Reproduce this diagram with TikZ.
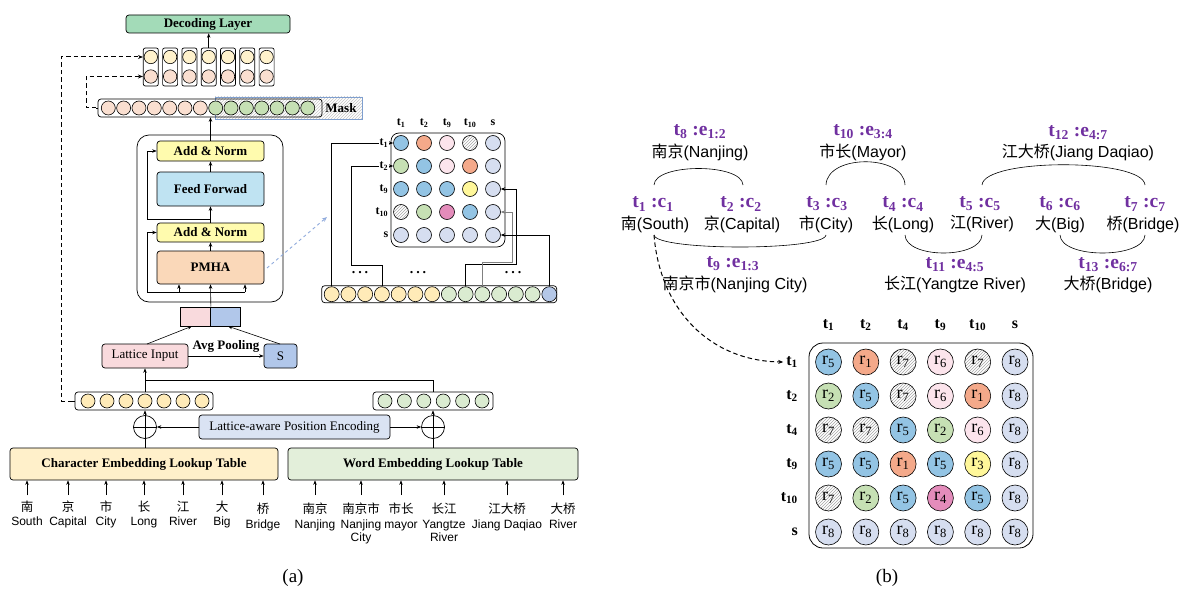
\documentclass[tikz,border=0pt]{standalone}
\usepackage{fontspec}
\setmainfont{Liberation Serif}
\setsansfont{Liberation Sans}
\newfontfamily\cjk{Noto Sans CJK SC}
\usetikzlibrary{arrows.meta,patterns,calc}
\definecolor{decg}{HTML}{A3DBB8}
\definecolor{cyel}{HTML}{FFF2CC}
\definecolor{cpea}{HTML}{FADFD0}
\definecolor{cgrn}{HTML}{C6E0B4}
\definecolor{anorm}{HTML}{FFFBAE}
\definecolor{ffblue}{HTML}{BFE3F2}
\definecolor{pmha}{HTML}{FAD8B9}
\definecolor{lpink}{HTML}{F9DADD}
\definecolor{sblue}{HTML}{B1C7EA}
\definecolor{embY}{HTML}{FFEBB8}
\definecolor{embG}{HTML}{DAEBD0}
\definecolor{embB}{HTML}{B4C7E7}
\definecolor{peblue}{HTML}{DAE3F3}
\definecolor{ctabc}{HTML}{FFF0CA}
\definecolor{wtabc}{HTML}{E3EFDA}
\definecolor{mblue}{HTML}{93C4E4}
\definecolor{morg}{HTML}{F4A98A}
\definecolor{mpink}{HTML}{FCE4EC}
\definecolor{mlb}{HTML}{D6DEF0}
\definecolor{mgrn}{HTML}{C6E0B4}
\definecolor{myel}{HTML}{FFF79A}
\definecolor{mmag}{HTML}{E48CBB}
\definecolor{purp}{HTML}{7030A0}
\definecolor{maskb}{HTML}{7F9FCF}
\definecolor{dashb}{HTML}{8FAADC}
\newcommand\fsz[1]{\fontsize{#1}{#1}\selectfont}
\newcommand\tdots{.\hspace{3pt}.\hspace{3pt}.}
\begin{document}
\begin{tikzpicture}[x=1pt,y=-1pt,
  every node/.style={inner sep=0pt},
  arr/.style={-{Stealth[length=4.5pt,width=3.5pt]}, line width=0.6pt},
  ln/.style={line width=0.6pt},
  dsh/.style={dash pattern=on 4.5pt off 3pt, line width=1pt, -{Stealth[length=5pt,width=4pt]}},
  box/.style={draw, rounded corners=3pt, line width=0.7pt, inner sep=0pt},
  circ/.style={circle, draw, line width=0.6pt, inner sep=0pt},
  bl/.style={font=\fsz{13}\bfseries},
  rl/.style={font=\fsz{13}},
  fl-mblue/.style={fill=mblue}, fl-morg/.style={fill=morg}, fl-mpink/.style={fill=mpink},
  fl-mlb/.style={fill=mlb}, fl-mgrn/.style={fill=mgrn}, fl-myel/.style={fill=myel},
  fl-mmag/.style={fill=mmag}, fl-hat/.style={pattern=north east lines, pattern color=gray!70},
  plab/.style={font=\fsz{19.5}\bfseries, text=purp},
  wlab/.style={font=\sffamily\fsz{16}},
  mhead/.style={font=\fsz{16}\bfseries},
  lhead/.style={font=\fsz{12}\bfseries}
]
\useasboundingbox (0,0) rectangle (1182,591);

%% ---------------- (a) ----------------
\node[box, fill=decg, minimum width=164, minimum height=18, bl] (dec) at (208,24) {Decoding Layer};
\foreach \i in {0,...,6} {
  \pgfmathsetmacro\xx{150.8+19.3*\i}
  \node[box, rounded corners=2pt, minimum width=15, minimum height=38] (col\i) at (\xx,67) {};
  \node[circ, fill=cyel, minimum size=13.4] (ca\i) at (\xx,57) {};
  \node[circ, fill=cpea, minimum size=13.4] (cb\i) at (\xx,76.5) {};
}
\draw[arr] (col3.north) -- (col3.north |- dec.south);

% mask row
\node[draw=maskb, line width=0.8pt, pattern=north east lines, pattern color=gray!45, minimum width=147, minimum height=22] (maskr) at (288.5,108) {};
\node[box, minimum width=224, minimum height=18] (maskrow) at (210,108) {};
\foreach \i in {0,...,13} {
  \pgfmathsetmacro\xx{108.3+15.34*\i}
  \ifnum\i<7 \node[circ, fill=cpea, minimum size=14] (mk\i) at (\xx,108) {};
  \else \node[circ, fill=cgrn, minimum size=14] (mk\i) at (\xx,108) {}; \fi
}
\node[bl] (masklab) at (341,108) {Mask};

% transformer block
\node[box, rounded corners=12pt, minimum width=146, minimum height=167] (tf) at (210,218.5) {};
\node[box, fill=anorm, minimum width=107, minimum height=20, bl] (an1) at (210.5,151) {Add \& Norm};
\node[box, fill=ffblue, minimum width=107, minimum height=34, bl] (ff) at (210.5,189) {Feed Forwad};
\node[box, fill=anorm, minimum width=107, minimum height=19, bl] (an2) at (210.5,232.5) {Add \& Norm};
\node[box, fill=pmha, minimum width=107, minimum height=33, bl] (pm) at (210.5,267.5) {PMHA};
\draw[arr] (an1.north) -- (an1.north |- maskrow.south);
\draw[arr] (ff.north) -- (an1.south);
\draw[arr] (an2.north) -- (ff.south);
\draw[arr] (pm.north) -- (an2.south);
\coordinate (r2) at (210.5,219);
\draw[arr] (r2) -- (147,219) |- (an1.west);
\coordinate (r1) at (210.5,292);
\draw[arr] (r1) -- (147,292) |- (an2.west);
\draw[ln] (r1) -- (245,292);
\coordinate (b179) at (179,292);
\coordinate (b245) at (245,292);
\draw[arr] (b179) -- (b179 |- pm.south);
\draw[arr] (b245) -- (b245 |- pm.south);

% concat
\node[draw, line width=0.7pt, fill=lpink, minimum width=30, minimum height=19] (cl) at (195.5,316.5) {};
\node[draw, line width=0.7pt, fill=sblue, minimum width=30, minimum height=19] (cr) at (225.5,316.5) {};
\draw[arr] (cl.north east) -- (pm.south);

% lattice input / S
\node[box, fill=lpink, minimum width=86, minimum height=24, rl] (li) at (145,356) {Lattice Input};
\node[box, fill=sblue, minimum width=33, minimum height=24, rl] (sb) at (280.5,356) {S};
\draw[arr] (li.east) -- (sb.west);
\node[bl] (avg) at (226,346) {Avg Pooling};
\draw[arr] (147,344) -- (192,326.2);
\draw[arr] (280,344) -- (228,326.2);

% embedding rows
\node[box, minimum width=138, minimum height=18] (embL) at (144,401) {};
\foreach \i in {0,...,6} {
  \pgfmathsetmacro\xx{88+19*\i}
  \node[circ, fill=embY, minimum size=14] (eL\i) at (\xx,401) {};
}
\node[box, minimum width=120, minimum height=18] (embR) at (433,401) {};
\foreach \i in {0,...,5} {
  \pgfmathsetmacro\xx{385+19.4*\i}
  \node[circ, fill=embG, minimum size=14] (eR\i) at (\xx,401) {};
}
\coordinate (lv) at (145,392);
\draw[arr] (lv) -- (lv |- li.south);
\draw[ln] (145,380) -- (433,380) -- (433,392);
\draw[ln] (embL.west) -- (72,401);
\draw[ln] (maskrow.west) -- (96,108);
\draw[dsh] (72,401) -- (61,401) |- (col0.west |- ca0.center);
\draw[dsh] (96,108) -- (86,108) |- (col0.west |- cb0.center);

% plus nodes
\node[circle, draw, line width=0.7pt, minimum size=23] (pL) at (145,427) {};
\draw[ln] (pL.north) -- (pL.south) (pL.west) -- (pL.east);
\node[circle, draw, line width=0.7pt, minimum size=23] (pR) at (433,427) {};
\draw[ln] (pR.north) -- (pR.south) (pR.west) -- (pR.east);
\draw[arr] (pL.north) -- (pL.north |- embL.south);
\draw[arr] (pR.north) -- (pR.north |- embR.south);
\node[box, fill=peblue, minimum width=191, minimum height=24, rl] (pe) at (294.5,427) {Lattice-aware Position Encoding};
\draw[arr] (pe.west) -- (pL.east);
\draw[arr] (pe.east) -- (pR.west);

% lookup tables
\node[box, fill=ctabc, minimum width=268, minimum height=32, bl] (ctab) at (144,464) {Character Embedding Lookup Table};
\node[box, fill=wtabc, minimum width=290, minimum height=32, bl] (wtab) at (433,464) {Word Embedding Lookup Table};
\draw[ln] (ctab.north -| pL.south) -- (pL.south);
\draw[ln] (wtab.north -| pR.south) -- (pR.south);

\foreach \x/\cz/\en [count=\i] in {27/南/South, 68/京/Capital, 106/市/City, 144/长/Long, 183/江/River, 222/大/Big} {
  \node[font=\cjk\fsz{12.5}, anchor=base] (cc\i) at (\x,511) {\cz};
  \node[font=\sffamily\fsz{12}, anchor=base] (ce\i) at (\x,525) {\en};
  \draw[arr, shorten <=5pt] (cc\i.north) -- (cc\i.north |- ctab.south);
}
\node[font=\cjk\fsz{12.5}, anchor=base] (cc7) at (263,513) {桥};
\node[font=\sffamily\fsz{12}, anchor=base] (ce7) at (263,528) {Bridge};
\draw[arr, shorten <=7pt] (cc7.north) -- (cc7.north |- ctab.south);

\foreach \x/\cz/\en [count=\i] in {315/南京/Nanjing, 361/南京市/Nanjing, 401/市长/mayor, 444/长江/Yangtze, 507/江大桥/Jiang Daqiao, 563/大桥/River} {
  \node[font=\cjk\fsz{12.5}, anchor=base] (wc\i) at (\x,513) {\cz};
  \node[font=\sffamily\fsz{12}, anchor=base] (we\i) at (\x,528) {\en};
  \draw[arr, shorten <=7pt] (wc\i.north) -- (wc\i.north |- wtab.south);
}
\node[font=\sffamily\fsz{12}, anchor=base] (we2b) at (361,541) {City};
\node[font=\sffamily\fsz{12}, anchor=base] (we4b) at (444,541) {River};

% small matrix
\node[draw, line width=0.7pt, rounded corners=8pt, minimum width=114, minimum height=114] (lmat) at (448,190) {};
\foreach \row [count=\ri] in {{mblue,morg,mpink,hat,mlb},{mgrn,mblue,mpink,morg,mlb},{mblue,mblue,mblue,myel,mlb},{hat,mgrn,mmag,mblue,mlb},{mlb,mlb,mlb,mlb,mlb}} {
  \foreach \cc [count=\ci] in \row {
    \node[circ, fl-\cc, minimum size=15] (lm\ri\ci) at ({401+23*(\ci-1)},{143+23*(\ri-1)}) {};
  }
}
\foreach \t [count=\ci] in {t\textsubscript{1},t\textsubscript{2},t\textsubscript{9},t\textsubscript{10},s} {
  \node[lhead] (lh\ci) at ({401+23*(\ci-1)},123) {\t};
}
\node[box, minimum width=235, minimum height=17] (erow) at (439.2,294.2) {};
\foreach \i in {0,...,13} {
  \pgfmathsetmacro\xx{331.7+16.74*\i}
  \ifnum\i<7 \node[circ, fill=embY, minimum size=15] (er\i) at (\xx,294.2) {};
  \else\ifnum\i<13 \node[circ, fill=embG, minimum size=15] (er\i) at (\xx,294.2) {};
  \else \node[circ, fill=embB, minimum size=15] (er\i) at (\xx,294.2) {}; \fi\fi
}
\node[font=\fsz{14}\bfseries] (d1) at (360,273) {\tdots};
\node[font=\fsz{14}\bfseries] (d2) at (418,273) {\tdots};
\node[font=\fsz{14}\bfseries] (d3) at (513,273) {\tdots};
\draw[arr] (er0.north) |- (lm11.west);
\draw[arr] (er3.north) -- ++(0,-21.5) -- ++(-30.2,0) |- (lm21.west);
\draw[arr] (er8.north) -- ++(0,-22) -- ++(50.4,0) |- (lm35.east);
\draw[arr, gray] (er9.north) -- ++(0,-24) -- ++(30,0) |- (lm45.east);
\draw[arr] (er13.north) |- (lm55.east);
\foreach \t [count=\ri] in {t\textsubscript{1},t\textsubscript{2},t\textsubscript{9},t\textsubscript{10},s} {
  \node[lhead, fill=white, inner sep=0.6pt, anchor=east] (lr\ri) at ({389},{143+23*(\ri-1)}) {\t};
}
\coordinate (pmd) at (267,268);
\coordinate (lmd) at (327,217);
\draw[dashed, line width=0.9pt, dashb, -{Stealth[length=5pt,width=4pt]}] (pmd) -- (lmd);

\node[font=\fsz{19}] (capa) at (293,578) {(a)};

%% ---------------- (b) ----------------
\node[plab] (p1) at (653,204) {t\textsubscript{1} :c\textsubscript{1}};
\node[plab] (p2) at (741,204) {t\textsubscript{2} :c\textsubscript{2}};
\node[plab] (p3) at (827,204) {t\textsubscript{3} :c\textsubscript{3}};
\node[plab] (p4) at (903,204) {t\textsubscript{4} :c\textsubscript{4}};
\node[plab] (p5) at (980,204) {t\textsubscript{5} :c\textsubscript{5}};
\node[plab] (p6) at (1060,204) {t\textsubscript{6} :c\textsubscript{6}};
\node[plab] (p7) at (1145,204) {t\textsubscript{7} :c\textsubscript{7}};
\node[wlab] (w1) at (655,224) {{\cjk 南}(South)};
\node[wlab] (w2) at (742,224) {{\cjk 京}(Capital)};
\node[wlab] (w3) at (826,224) {{\cjk 市}(City)};
\node[wlab] (w4) at (903,224) {{\cjk 长}(Long)};
\node[wlab] (w5) at (982,224) {{\cjk 江}(River)};
\node[wlab] (w6) at (1060,224) {{\cjk 大}(Big)};
\node[wlab] (w7) at (1143,224) {{\cjk 桥}(Bridge)};
\node[plab] (p8) at (700,132) {t\textsubscript{8} :e\textsubscript{1:2}};
\node[wlab] (w8) at (700,152) {{\cjk 南京}(Nanjing)};
\node[plab] (p10) at (863,132) {t\textsubscript{10} :e\textsubscript{3:4}};
\node[wlab] (w10) at (863,152) {{\cjk 市长}(Mayor)};
\node[plab] (p12) at (1078,133) {t\textsubscript{12} :e\textsubscript{4:7}};
\node[wlab] (w12) at (1078,152) {{\cjk 江大桥}(Jiang Daqiao)};
\node[plab] (p9) at (733,264) {t\textsubscript{9} :e\textsubscript{1:3}};
\node[wlab] (w9) at (735,284) {{\cjk 南京市}(Nanjing City)};
\node[plab] (p11) at (955,265) {t\textsubscript{11} :e\textsubscript{4:5}};
\node[wlab] (w11) at (955,284) {{\cjk 长江}(Yangtze River)};
\node[plab] (p13) at (1108,265) {t\textsubscript{13} :e\textsubscript{6:7}};
\node[wlab] (w13) at (1108,284) {{\cjk 大桥}(Bridge)};

\coordinate (u1) at (654,185); \coordinate (u2) at (743,185);
\coordinate (u3) at (826,185); \coordinate (u4) at (905,185);
\coordinate (u5) at (982,185); \coordinate (u7) at (1145,185);
\coordinate (d1b) at (654,235); \coordinate (d3b) at (826,235);
\coordinate (d4b) at (905,235); \coordinate (d5b) at (982,235);
\coordinate (d6b) at (1060,235); \coordinate (d7b) at (1145,235);
\draw[ln] (u1) .. controls (655,163) and (742,163) .. (u2);
\draw[ln] (u3) .. controls (827,154) and (904,154) .. (u4);
\draw[ln] (u5) .. controls (984,158) and (1143,158) .. (u7);
\draw[ln] (d1b) .. controls (656,251) and (824,251) .. (d3b);
\draw[ln] (d4b) .. controls (906,259) and (981,259) .. (d5b);
\draw[ln] (d6b) .. controls (1061,259) and (1144,259) .. (d7b);

% big matrix
\node[draw, line width=0.8pt, rounded corners=14pt, minimum width=224, minimum height=205] (rmat) at (921,445.5) {};
\foreach \row [count=\ri] in {{mblue/5,morg/1,hat/7,mpink/6,hat/7,mlb/8},{mgrn/2,mblue/5,hat/7,mpink/6,morg/1,mlb/8},{hat/7,hat/7,mblue/5,mgrn/2,mpink/6,mlb/8},{mblue/5,mblue/5,morg/1,mblue/5,myel/3,mlb/8},{hat/7,mgrn/2,mblue/5,mmag/4,mblue/5,mlb/8},{mlb/8,mlb/8,mlb/8,mlb/8,mlb/8,mlb/8}} {
  \foreach \cc/\nn [count=\ci] in \row {
    \node[circ, fl-\cc, minimum size=26, font=\fsz{18}] (rm\ri\ci) at ({828.5+37.3*(\ci-1)},{362+34*(\ri-1)}) {r\textsubscript{\nn}};
  }
}
\foreach \t [count=\ci] in {t\textsubscript{1},t\textsubscript{2},t\textsubscript{4},t\textsubscript{9},t\textsubscript{10},s} {
  \node[mhead] (rh\ci) at ({828.5+37.3*(\ci-1)},325) {\t};
  \node[mhead, anchor=east] (rr\ci) at (798,{362+34*(\ci-1)}) {\t};
}
\draw[dsh] (d1b) .. controls (660,310) and (710,361) .. ([xshift=-3pt]rr1.west);

\node[font=\fsz{19}] (capb) at (887,578) {(b)};
\end{tikzpicture}
\end{document}
